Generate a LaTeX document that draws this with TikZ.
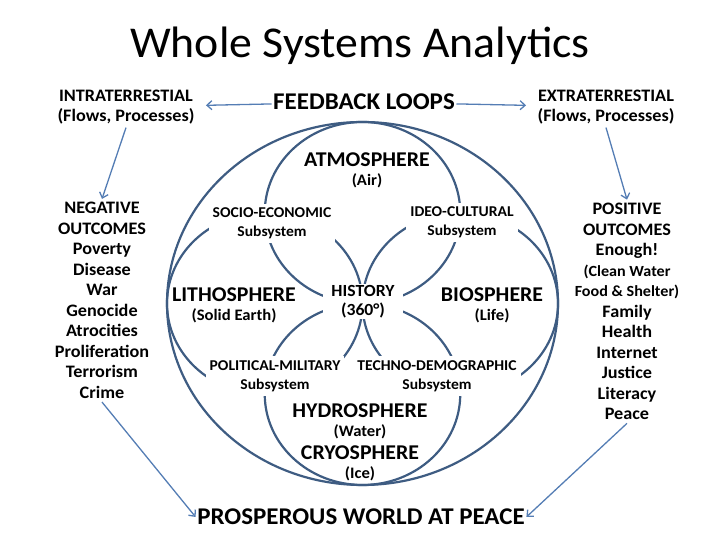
\documentclass[tikz,border=0pt]{standalone}
\usepackage{fontspec}
\setmainfont{Carlito}[FakeStretch=1.04]
\usetikzlibrary{arrows.meta, positioning}
\definecolor{ringblue}{RGB}{62,92,130}
\definecolor{arrowblue}{RGB}{84,125,180}
\newcommand{\minorline}[1]{{\fontsize{15.5}{18}\selectfont #1}}

\begin{document}
\begin{tikzpicture}[
    x=1pt, y=1pt,
    ring/.style={draw=ringblue, line width=2.2pt},
    lbl/.style={fill=white, inner sep=1.5pt, align=center},
    title/.style={font=\fontsize{44}{48}\selectfont},
    head/.style={lbl, font=\fontsize{24}{26}\selectfont\bfseries},
    side/.style={align=center, font=\fontsize{17.5}{20}\selectfont\bfseries},
    outcome/.style={align=center, font=\fontsize{17.5}{20.5}\selectfont\bfseries},
    sphere/.style={lbl, font=\fontsize{21}{23}\selectfont\bfseries},
    sub/.style={lbl, font=\fontsize{16}{18}\selectfont\bfseries},
    subsys/.style={lbl, inner sep=4pt, font=\fontsize{15}{19}\selectfont\bfseries},
    hist/.style={lbl, font=\fontsize{17}{19}\selectfont\bfseries},
    arr/.style={draw=arrowblue, line width=1.3pt, -{Straight Barb[length=5pt, width=9pt]}}
  ]
    \useasboundingbox (0,0) rectangle (720,540);

    % --- Circles ---
    \coordinate (c) at (362.5,236.5);
    \draw[ring] (c) ellipse [x radius=195.5pt, y radius=181.5pt];
    \draw[ring] ([yshift=90.75pt]c) ellipse [x radius=97.75pt, y radius=90.75pt];
    \draw[ring] ([yshift=-90.75pt]c) ellipse [x radius=97.75pt, y radius=90.75pt];
    \draw[ring] ([xshift=-97.75pt]c) ellipse [x radius=97.75pt, y radius=90.75pt];
    \draw[ring] ([xshift=97.75pt]c) ellipse [x radius=97.75pt, y radius=90.75pt];

    % --- Header ---
    \node[title] (ttl) at (360,494) {Whole Systems Analytics};
    \node[head] (fb) at (364,438) {FEEDBACK LOOPS};
    \node[side] (intra) at (126,433) {INTRATERRESTIAL\\(Flows, Processes)};
    \node[side] (extra) at (606,433) {EXTRATERRESTIAL\\(Flows, Processes)};

    % --- Outcomes ---
    \node[outcome] (neg) at (102,239.5) {NEGATIVE\\OUTCOMES\\Poverty\\Disease\\War\\Genocide\\Atrocities\\Proliferation\\Terrorism\\Crime};
    \node[outcome] (pos) at (627,228.5) {POSITIVE\\OUTCOMES\\Enough!\\\minorline{(Clean Water}\\\minorline{Food \& Shelter)}\\Family\\Health\\Internet\\Justice\\Literacy\\Peace};
    \node[head] (goal) at (361,23) {PROSPEROUS WORLD AT PEACE};

    % --- Spheres ---
    \node[sphere] (atmo) at (367,380) {ATMOSPHERE};
    \node[sub, below=3pt of atmo] (air) {(Air)};
    \node[sphere] (litho) at (234,245) {LITHOSPHERE};
    \node[sub, below=3pt of litho] (earth) {(Solid Earth)};
    \node[sphere] (bio) at (492,245) {BIOSPHERE};
    \node[sub, below=3pt of bio] (life) {(Life)};
    \node[sphere] (hydro) at (360,129) {HYDROSPHERE};
    \node[sub, below=3pt of hydro] (water) {(Water)};
    \node[sphere] (cryo) at (360,87) {CRYOSPHERE};
    \node[sub, below=3pt of cryo] (ice) {(Ice)};
    \node[hist, inner xsep=8pt] (hist) at (363,238.5) {HISTORY\\(360°)};

    % --- Subsystems ---
    \node[subsys] (socio) at (272,316.5) {SOCIO-ECONOMIC\\Subsystem};
    \node[subsys] (ideo) at (462,317.5) {IDEO-CULTURAL\\Subsystem};
    \node[subsys] (polit) at (275,164) {POLITICAL-MILITARY\\Subsystem};
    \node[subsys] (techno) at (437,164) {TECHNO-DEMOGRAPHIC\\Subsystem};

    % --- Arrows ---
    \draw[arr, shorten >=8pt] (fb) -- (intra);
    \draw[arr, shorten >=8pt] (fb) -- (extra);
    \draw[arr] (intra.south) -- (neg.north);
    \draw[arr] (extra.south) -- (pos.north);
    \draw[arr] (neg.south) -- (goal.west);
    \draw[arr] (pos.south) -- (goal.east);

  \end{tikzpicture}
\end{document}
